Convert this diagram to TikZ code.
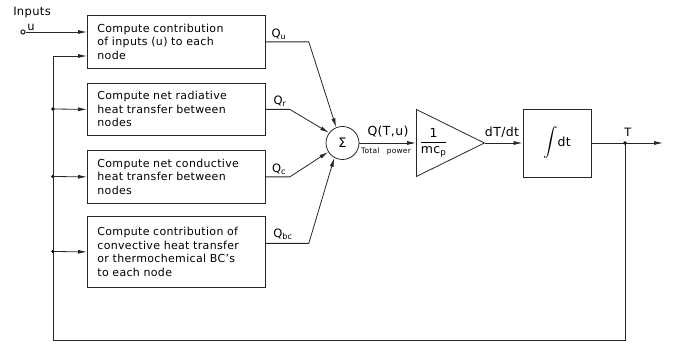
\documentclass[tikz,border=0pt]{standalone}
\usepackage{fontspec}
\setmainfont{DejaVu Sans}
\newfontfamily\cadfont[LetterSpace=3,WordSpace=1.4]{DejaVu Sans}
\usepackage{amsmath}
\usetikzlibrary{
  arrows.meta,
  positioning,
  shapes.geometric,
  calc
}

\begin{document}
\begin{tikzpicture}[x=1pt, y=1pt, line width=0.8pt, draw=black!85,
    compbox/.style={draw, rectangle, anchor=north west, text width=158pt, inner xsep=10pt, align=left, font=\cadfont\fontsize{11}{13.5}\selectfont},
    sig/.style={-{Latex[length=9pt, width=4pt]}},
    lbl/.style={font=\cadfont\fontsize{11.5}{12}\selectfont, inner sep=0pt},
    junc/.style={circle, fill, inner sep=0pt, minimum size=3.8pt}]
  \useasboundingbox (0,0) rectangle (673,344);
  \node[compbox, minimum height=53pt] (inBox) at (87,329) {Compute contribution\\of inputs (u) to each\\node};
  \node[compbox, minimum height=52pt] (radBox) at (87,261) {Compute net radiative\\heat transfer between\\nodes};
  \node[compbox, minimum height=53pt] (condBox) at (87,194) {Compute net conductive\\heat transfer between\\nodes};
  \node[compbox, minimum height=71pt] (convBox) at (87,128) {Compute contribution of\\convective heat transfer\\or thermochemical BC’s\\to each node};
  \node[circle, draw, minimum size=33pt, inner sep=0pt, font=\fontsize{13}{14}\selectfont] (sum) at (342.5,201) {Σ};
  \node[draw, isosceles triangle, isosceles triangle stretches, minimum width=67pt, minimum height=68pt, inner sep=0pt, anchor=lower side, font=\cadfont\fontsize{12.5}{14}\selectfont] (gain) at (416,201) {$\dfrac{\text{1}}{\text{mc}_{\text{p}}}$};
  \node[draw, rectangle, minimum width=68pt, minimum height=68pt, font=\cadfont\fontsize{12.5}{14}\selectfont] (intBox) at (557,201) {\fontsize{15}{16}\selectfont$\displaystyle\int$\fontsize{12.5}{14}\selectfont dt};
  \node[circle, draw, inner sep=0pt, minimum size=4.2pt, line width=1pt] (inTerm) at (23,312) {};
  \node[junc] (tDot) at (625,201) {};
  \node[junc] (jRad) at (53,235) {};
  \node[junc] (jCond) at (53,167.5) {};
  \node[junc] (jConv) at (53,92.5) {};
  \coordinate (fbTop) at (53,288);
  \coordinate (fbBot) at (53,4);
  \coordinate (outEnd) at (663,201);

  \node[lbl] (inLbl) at (32,331) {Inputs};
  \node[lbl] (uLbl) at (31,317) {u};
  \node[lbl] (quLbl) at (279,310) {Q\textsubscript{u}};
  \node[lbl] (qrLbl) at (280,243) {Q\textsubscript{r}};
  \node[lbl] (qcLbl) at (279,175) {Q\textsubscript{c}};
  \node[lbl] (qbcLbl) at (283,110) {Q\textsubscript{bc}};
  \node[lbl, font=\cadfont\fontsize{12.5}{14}\selectfont] (qtLbl) at (388,212) {Q(T,u)};
  \node[lbl, font=\cadfont\fontsize{7.5}{8}\selectfont] (powLbl) at (386,193) {Total\ \ power};
  \node[lbl, font=\cadfont\fontsize{12.5}{14}\selectfont] (dtLbl) at (502,212) {dT/dt};
  \node[lbl] (tLbl) at (628,212) {T};

  \draw[sig] (inTerm) -- (inBox.west |- inTerm);
  \draw[sig] (tDot.center) |- (fbBot) -- (fbTop) -- (inBox.west |- fbTop);
  \draw[sig] (jRad.center) -- (radBox.west);
  \draw[sig] (jCond.center) -- (condBox.west);
  \draw[sig] (jConv.center) -- (convBox.west);
  \draw[sig] (inBox.east) -- ++(43,0) -- (sum.112);
  \draw[sig] (radBox.east) -- ++(24,0) -- (sum.143);
  \draw[sig] (condBox.east) -- ++(24,0) -- (sum.212);
  \draw[sig] ($(convBox.east)+(0,8.5)$) -- ++(43,0) -- (sum.241);
  \draw[sig] (sum) -- (gain.lower side);
  \draw[sig] (gain.apex) -- (intBox);
  \draw (intBox) -- (tDot.center);
  \draw[sig] (tDot.center) -- (outEnd);
\end{tikzpicture}
\end{document}
